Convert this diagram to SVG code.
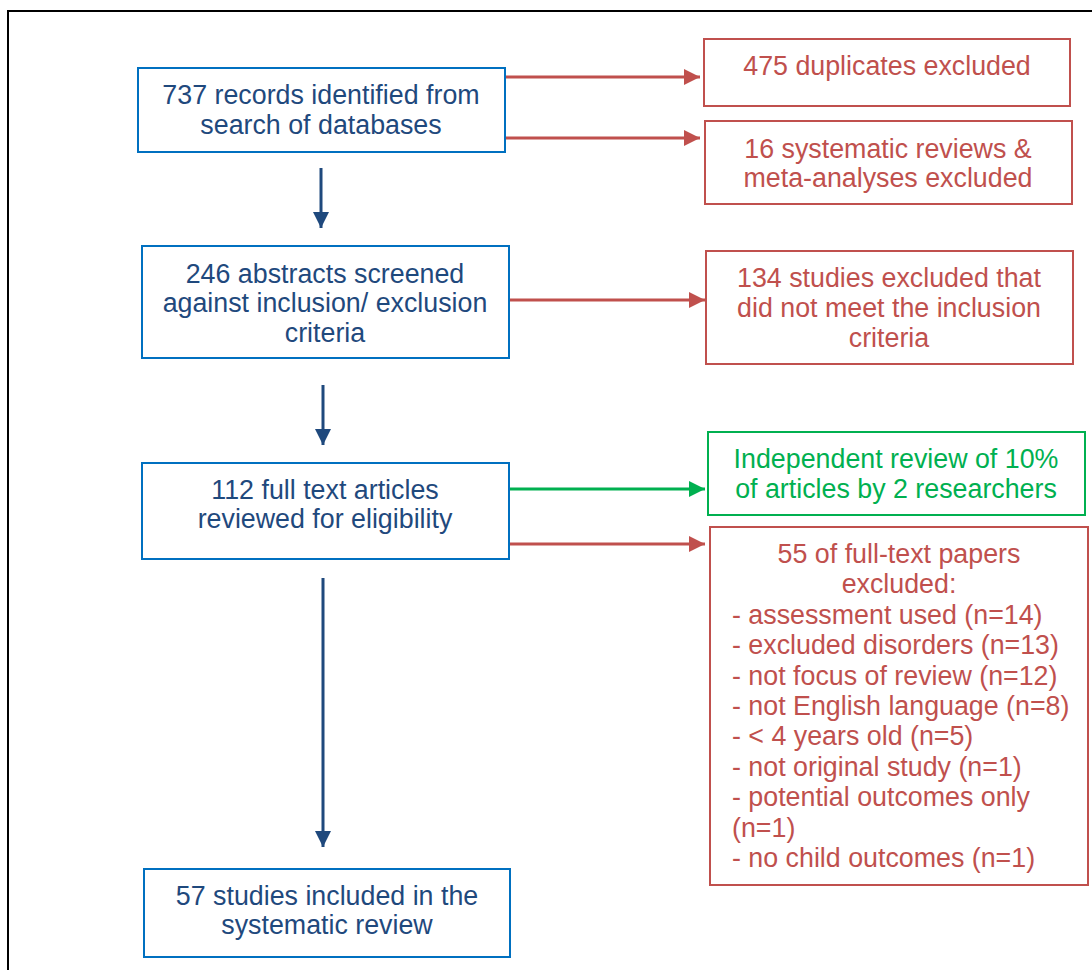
<svg xmlns="http://www.w3.org/2000/svg" width="1092" height="970" viewBox="0 0 1092 970">
  <style>
    text { font-family: "Liberation Sans", Arial, sans-serif; font-size: 26.8px; }
    .blue rect { fill: #ffffff; stroke: #0070C0; stroke-width: 2; }
    .blue text { fill: #1F497D; text-anchor: middle; }
    .red rect { fill: #ffffff; stroke: #C0504D; stroke-width: 2; }
    .red text { fill: #C0504D; text-anchor: middle; }
    .red text.left { text-anchor: start; }
    .green rect { fill: #ffffff; stroke: #00B050; stroke-width: 2; }
    .green text { fill: #00B050; text-anchor: middle; }
    .down { stroke: #1F497D; stroke-width: 3; fill: none; }
    .excl { stroke: #C0504D; stroke-width: 3; fill: none; }
    .check { stroke: #00B050; stroke-width: 3; fill: none; }
  </style>
  <defs>
    <marker id="headBlue" markerUnits="userSpaceOnUse" markerWidth="16" markerHeight="16" refX="16" refY="8" orient="auto">
      <path d="M0,0 L16,8 L0,16 Z" fill="#1F497D"/>
    </marker>
    <marker id="headRed" markerUnits="userSpaceOnUse" markerWidth="16" markerHeight="16" refX="16" refY="8" orient="auto">
      <path d="M0,0 L16,8 L0,16 Z" fill="#C0504D"/>
    </marker>
    <marker id="headGreen" markerUnits="userSpaceOnUse" markerWidth="16" markerHeight="16" refX="16" refY="8" orient="auto">
      <path d="M0,0 L16,8 L0,16 Z" fill="#00B050"/>
    </marker>
  </defs>

  <rect width="1092" height="970" fill="#ffffff"/>
  <!-- outer frame (runs off the right and bottom edges) -->
  <rect x="8" y="11" width="1120" height="1000" fill="none" stroke="#000000" stroke-width="2"/>

  <g id="connectors">
    <line class="down" x1="321" y1="168" x2="321" y2="228" marker-end="url(#headBlue)"/>
    <line class="down" x1="323" y1="385" x2="323" y2="445" marker-end="url(#headBlue)"/>
    <line class="down" x1="323" y1="578" x2="323" y2="847" marker-end="url(#headBlue)"/>
    <line class="excl" x1="506" y1="77" x2="700" y2="77" marker-end="url(#headRed)"/>
    <line class="excl" x1="506" y1="138" x2="700" y2="138" marker-end="url(#headRed)"/>
    <line class="excl" x1="510" y1="300" x2="705" y2="300" marker-end="url(#headRed)"/>
    <line class="check" x1="510" y1="489" x2="705" y2="489" marker-end="url(#headGreen)"/>
    <line class="excl" x1="510" y1="544" x2="705" y2="544" marker-end="url(#headRed)"/>
  </g>

  <g id="records" class="blue">
    <rect x="138" y="68" width="367" height="84"/>
    <text x="321" y="104">737 records identified from</text>
    <text x="321" y="134">search of databases</text>
  </g>

  <g id="abstracts" class="blue">
    <rect x="142" y="246" width="367" height="112"/>
    <text x="325" y="283">246 abstracts screened</text>
    <text x="325" y="312">against inclusion/ exclusion</text>
    <text x="325" y="342">criteria</text>
  </g>

  <g id="fulltext" class="blue">
    <rect x="142" y="463" width="367" height="96"/>
    <text x="325" y="499">112 full text articles</text>
    <text x="325" y="528">reviewed for eligibility</text>
  </g>

  <g id="included" class="blue">
    <rect x="144" y="869" width="366" height="88"/>
    <text x="327" y="905">57 studies included in the</text>
    <text x="327" y="934">systematic review</text>
  </g>

  <g id="duplicates" class="red">
    <rect x="704" y="39" width="366" height="67"/>
    <text x="887" y="75">475 duplicates excluded</text>
  </g>

  <g id="reviews" class="red">
    <rect x="705" y="121" width="367" height="83"/>
    <text x="888" y="158">16 systematic reviews &amp;</text>
    <text x="888" y="187">meta-analyses excluded</text>
  </g>

  <g id="screened-out" class="red">
    <rect x="706" y="251" width="367" height="113"/>
    <text x="889" y="287">134 studies excluded that</text>
    <text x="889" y="317">did not meet the inclusion</text>
    <text x="889" y="347">criteria</text>
  </g>

  <g id="independent" class="green">
    <rect x="708" y="432" width="377" height="83"/>
    <text x="896" y="468">Independent review of 10%</text>
    <text x="896" y="498">of articles by 2 researchers</text>
  </g>

  <g id="fulltext-excluded" class="red">
    <rect x="710" y="527" width="378" height="358"/>
    <text x="899" y="563">55 of full-text papers</text>
    <text x="899" y="593">excluded:</text>
    <text class="left" x="732" y="624">- assessment used (n=14)</text>
    <text class="left" x="732" y="654">- excluded disorders (n=13)</text>
    <text class="left" x="732" y="685">- not focus of review (n=12)</text>
    <text class="left" x="732" y="715">- not English language (n=8)</text>
    <text class="left" x="732" y="745">- &lt; 4 years old (n=5)</text>
    <text class="left" x="732" y="776">- not original study (n=1)</text>
    <text class="left" x="732" y="806">- potential outcomes only</text>
    <text class="left" x="732" y="837">(n=1)</text>
    <text class="left" x="732" y="867">- no child outcomes (n=1)</text>
  </g>
</svg>
